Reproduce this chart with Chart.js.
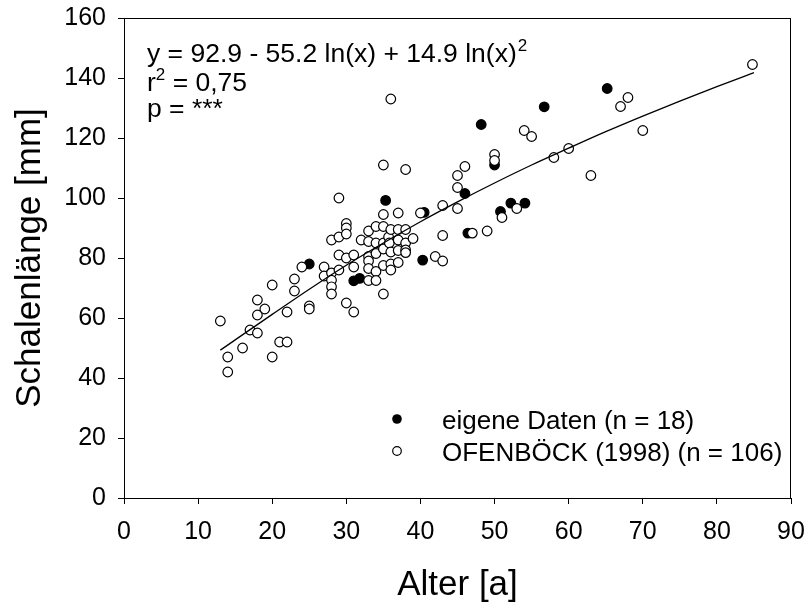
<!DOCTYPE html>
<html>
<head>
<meta charset="utf-8">
<script src="https://cdn.jsdelivr.net/npm/chart.js@4.4.1/dist/chart.umd.min.js"></script>
<style>
  html, body { margin: 0; padding: 0; background: #fff; }
  #wrap { width: 808px; height: 607px; }
</style>
</head>
<body>
<div id="wrap"><canvas id="shellChart" width="808" height="607"></canvas></div>
<script>
// own data (filled circles)
const ownAge = [25, 31, 31.8, 35.3, 35.4, 40.5, 40.3, 46, 46.4, 48.2, 50, 50.8, 52.2, 54.1, 56.7, 65.2];
const ownLength = [78, 72.4, 73.2, 99.2, 85, 95.2, 79.3, 101.5, 88.3, 124.5, 111, 95.5, 98.3, 98.3, 130.4, 136.5];

// Ofenböck 1998 (open circles)
const ofenAge = [13, 14, 14, 16, 17, 18, 18, 18, 19, 20, 20, 21, 22, 22, 23, 23, 24, 25, 25, 27, 27,
  28, 28, 28, 28, 28, 29, 29, 29, 29, 30, 30, 30, 30, 30, 31, 31, 31, 32, 33, 33, 33, 33, 33, 33,
  34, 34, 34, 34, 34, 35, 35, 35, 35, 35, 35, 35, 35.7, 35.8, 36, 36, 36, 36, 36, 37, 37, 37, 37, 37,
  38, 38, 38, 38, 38, 39, 40, 42, 43, 43, 43, 45, 45, 45, 46, 47, 49, 50, 50, 51, 53, 54, 55, 58, 60,
  63, 67, 68, 70, 84.8];
const ofenLength = [59, 47, 42, 50, 56, 55, 61, 66, 63, 47, 71, 52, 52, 62, 69, 73, 77, 64, 63, 77, 74,
  75, 72.6, 70.4, 68, 86, 87, 81, 76, 100, 91.5, 90, 88, 80, 65, 81, 77, 62, 86, 89, 85.5, 80.5, 79, 76.5, 72.5,
  90.5, 85, 81.5, 75.5, 72.5, 111, 94.5, 90.5, 85, 83, 77.5, 68, 87, 85, 89.5, 82, 78, 76, 133, 95, 89.5, 86, 82.5, 78.5,
  89.5, 85, 82.7, 81.8, 109.5, 86.5, 95, 80.5, 97.5, 87.5, 79, 96.5, 103.5, 107.5, 110.5, 88.3, 89, 114.5, 112.5, 93.5, 96.5, 122.5, 120.5, 113.5, 116.5,
  107.5, 130.5, 133.5, 122.5, 144.5];

// regression curve
const fitAge = [13, 15, 20, 25, 30, 35, 40, 45, 50, 55, 60, 65, 70, 75, 80, 85];
const fitLength = [49.3, 52.7, 61.2, 69.6, 77.6, 85.0, 92.1, 98.7, 105.0, 111.0, 116.6, 122.1, 127.3, 132.3, 137.1, 141.8];

const xTicks = [0, 10, 20, 30, 40, 50, 60, 70, 80, 90];
const yTicks = [0, 20, 40, 60, 80, 100, 120, 140, 160];

const FONT = "'Liberation Sans', Arial, sans-serif";

function toPoints(xs, ys) {
  return xs.map((x, i) => ({ x: x, y: ys[i] }));
}

// frame, equation and legend
const extras = {
  id: "extras",
  afterDraw(chart) {
    const c = chart.ctx;
    const a = chart.chartArea;
    c.save();
    c.strokeStyle = "#000";
    c.lineWidth = 1;
    c.strokeRect(a.left + 0.5, a.top + 0.5, a.right - a.left - 1, a.bottom - a.top);

    c.fillStyle = "#000";
    c.textBaseline = "alphabetic";
    c.textAlign = "left";
    const big = "26.5px " + FONT;
    const sup = "17px " + FONT;

    // equation
    c.font = big;
    let t = "y = 92.9 - 55.2 ln(x) + 14.9 ln(x)";
    c.fillText(t, 147, 62);
    let w = c.measureText(t).width;
    c.font = sup;
    c.fillText("2", 147 + w + 1, 51);

    c.font = big;
    c.fillText("r", 147, 91);
    w = c.measureText("r").width;
    c.font = sup;
    c.fillText("2", 147 + w, 80);
    const w2 = c.measureText("2").width;
    c.font = big;
    c.fillText(" = 0,75", 147 + w + w2, 91);

    c.fillText("p = ***", 147, 117);

    // legend
    c.font = "26px " + FONT;
    c.fillText("eigene Daten (n = 18)", 442, 429);
    c.fillText("OFENBÖCK (1998) (n = 106)", 442, 461);
    c.beginPath();
    c.arc(397, 419, 4.8, 0, Math.PI * 2);
    c.fill();
    c.beginPath();
    c.arc(397, 451, 4.3, 0, Math.PI * 2);
    c.fillStyle = "#fff";
    c.fill();
    c.lineWidth = 1.2;
    c.stroke();
    c.restore();
  }
};

const ctx = document.getElementById("shellChart").getContext("2d");

new Chart(ctx, {
  type: "scatter",
  data: {
    datasets: [
      {
        label: "eigene Daten (n = 18)",
        data: toPoints(ownAge, ownLength),
        pointRadius: 4.8,
        pointBorderWidth: 1.2,
        pointBackgroundColor: "#000",
        pointBorderColor: "#000",
        order: 2
      },
      {
        label: "OFENBÖCK (1998) (n = 106)",
        data: toPoints(ofenAge, ofenLength),
        pointRadius: 4.8,
        pointBorderWidth: 1.2,
        pointBackgroundColor: "#fff",
        pointBorderColor: "#000",
        order: 1
      },
      {
        type: "line",
        label: "fit",
        data: toPoints(fitAge, fitLength),
        borderColor: "#000",
        borderWidth: 1.3,
        pointRadius: 0,
        cubicInterpolationMode: "monotone",
        fill: false,
        order: 0
      }
    ]
  },
  options: {
    responsive: false,
    animation: false,
    events: [],
    layout: { padding: { top: 18, right: 17, left: 0, bottom: 0 } },
    plugins: {
      legend: { display: false },
      tooltip: { enabled: false }
    },
    scales: {
      x: {
        type: "linear",
        min: 0,
        max: 90,
        afterBuildTicks: s => { s.ticks = xTicks.map(v => ({ value: v })); },
        afterFit: s => { s.height = 109; s.paddingLeft = 0; s.paddingRight = 0; },
        ticks: { color: "#000", font: { family: FONT, size: 25 }, padding: 13 },
        grid: { drawOnChartArea: false, drawTicks: true, tickLength: 6, color: "#000", lineWidth: 1 },
        border: { display: true, color: "#000", width: 1 },
        title: { display: true, text: "Alter [a]", color: "#000", font: { family: FONT, size: 35 }, padding: { top: 0, bottom: 1 } }
      },
      y: {
        type: "linear",
        min: 0,
        max: 160,
        afterBuildTicks: s => { s.ticks = yTicks.map(v => ({ value: v })); },
        afterFit: s => { s.width = 124; s.paddingTop = 0; s.paddingBottom = 0; },
        ticks: { color: "#000", font: { family: FONT, size: 25 }, padding: 12 },
        grid: { drawOnChartArea: false, drawTicks: true, tickLength: 6, color: "#000", lineWidth: 1 },
        border: { display: true, color: "#000", width: 1 },
        title: { display: true, text: "Schalenlänge [mm]", color: "#000", font: { family: FONT, size: 35 }, padding: { top: 9, bottom: 0 } }
      }
    }
  },
  plugins: [extras]
});
</script>
</body>
</html>
